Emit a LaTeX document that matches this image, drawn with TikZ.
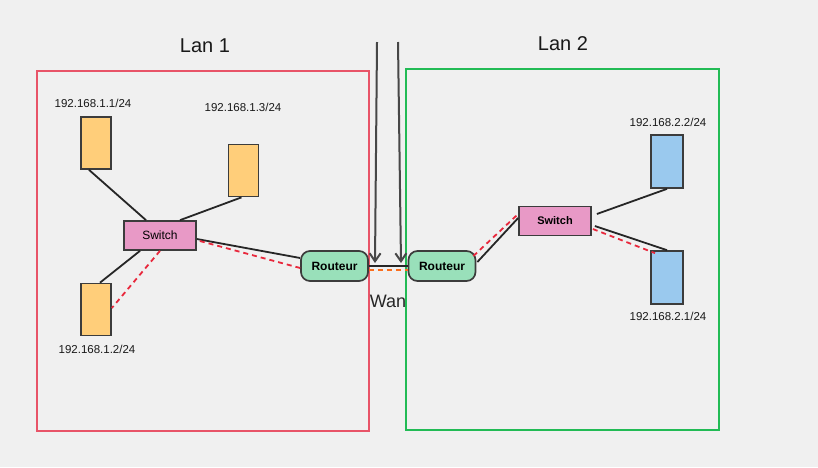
\documentclass[tikz,border=0pt]{standalone}
\usepackage{fontspec}
\setmainfont{Liberation Sans}
\usetikzlibrary{arrows.meta}
\definecolor{bg}{RGB}{240,240,240}
\definecolor{lanred}{RGB}{232,84,104}
\definecolor{langreen}{RGB}{34,187,85}
\definecolor{pcorange}{RGB}{255,206,122}
\definecolor{pcblue}{RGB}{154,201,238}
\definecolor{swpink}{RGB}{232,153,198}
\definecolor{rtgreen}{RGB}{153,224,186}
\definecolor{edgegray}{RGB}{60,60,60}
\definecolor{dashred}{RGB}{232,40,60}
\definecolor{dashorange}{RGB}{250,110,30}
\tikzset{
  pcbox/.style={draw=edgegray, line width=1.7pt, minimum width=30pt, minimum height=52pt, inner sep=0pt},
  swbox/.style={draw=edgegray, line width=1.7pt, fill=swpink, minimum width=72pt, minimum height=29pt, inner sep=0pt},
  rtbox/.style={draw=edgegray, line width=1.7pt, fill=rtgreen, rounded corners=9pt, minimum width=67pt, minimum height=30pt, inner sep=0pt, font=\fontsize{12}{14}\selectfont\bfseries},
  iplabel/.style={font=\fontsize{11.5}{13}\selectfont, text=black!90, inner sep=0pt},
  link/.style={draw=black!85, line width=1.8pt},
  rlink/.style={draw=dashred, line width=1.8pt, dash pattern=on 5pt off 4pt},
  olink/.style={draw=dashorange, line width=1.8pt, dash pattern=on 5pt off 4pt},
  wanarrow/.style={draw=black!72, line width=2pt, -{Straight Barb[length=8pt,width=11pt,line width=2pt]}},
  lanbox/.style={line width=1.4pt},
  title/.style={font=\fontsize{20}{24}\selectfont, text=black!90, inner sep=0pt}
}
\begin{document}
\begin{tikzpicture}[x=1pt,y=-1pt]
\fill[bg] (0,0) rectangle (818,467);
\useasboundingbox (0,0) rectangle (818,467);

% LAN boxes
\draw[lanbox, draw=lanred] (37,71) rectangle (369,431);
\draw[lanbox, draw=langreen] (406,69) rectangle (719,430);
\node[title] (lan1) at (205,46) {Lan 1};
\node[title] (lan2) at (563,44) {Lan 2};

% LAN 1 nodes
\node[pcbox, fill=pcorange] (pc1) at (96,143) {};
\node[pcbox, fill=pcorange] (pc3) at (243.5,170.5) {};
\node[pcbox, fill=pcorange] (pc2) at (96,309.5) {};
\node[iplabel] (l1) at (93,103) {192.168.1.1/24};
\node[iplabel] (l3) at (243,107) {192.168.1.3/24};
\node[iplabel] (l2) at (97,349) {192.168.1.2/24};
\node[swbox, font=\fontsize{12}{14}\selectfont] (sw1) at (160,235.5) {Switch};
\node[rtbox] (r1) at (334.5,266) {Routeur};

% LAN 2 nodes
\node[rtbox] (r2) at (442,266) {Routeur};
\node[swbox, font=\fontsize{11}{13}\selectfont\bfseries] (sw2) at (555,221) {Switch};
\node[pcbox, fill=pcblue, minimum width=32pt, minimum height=53pt] (pc4) at (667,161.5) {};
\node[pcbox, fill=pcblue, minimum width=32pt, minimum height=53pt] (pc5) at (667,277.5) {};
\node[iplabel] (l4) at (668,122) {192.168.2.2/24};
\node[iplabel] (l5) at (668,316) {192.168.2.1/24};

% Wan label
\node[font=\fontsize{18}{22}\selectfont, text=black!85, inner sep=0pt] (wan) at (388,301) {Wan};

% LAN 1 links
\draw[link] ([xshift=-7pt]pc1.south) -- ([xshift=-14pt]sw1.north);
\draw[link] ([xshift=-2pt]pc3.south) -- ([xshift=20pt]sw1.north);
\draw[link] ([xshift=-20pt]sw1.south) -- ([xshift=4pt]pc2.north);
\draw[rlink] (sw1.south) -- ([yshift=1.5pt]pc2.east);
\draw[link] ([yshift=-3.5pt]sw1.east) -- ([yshift=8pt]r1.west);
\draw[rlink] ([xshift=3pt,yshift=-5.5pt]sw1.east) -- ([yshift=-2pt]r1.west);

% WAN links
\draw[link] (r1.east) -- (r2.west);
\draw[olink] ([yshift=-4pt]r1.east) -- ([yshift=-4pt]r2.west);

% WAN arrows
\coordinate (a1s) at (377,42);
\coordinate (a1e) at (375,263);
\coordinate (a2s) at (398,42);
\coordinate (a2e) at (401,263);
\draw[wanarrow] (a1s) -- (a1e);
\draw[wanarrow] (a2s) -- (a2e);

% LAN 2 links
\draw[link] ([xshift=1pt,yshift=4pt]r2.east) -- ([yshift=3pt]sw2.west);
\draw[rlink] ([xshift=-3pt,yshift=10pt]r2.east) -- ([yshift=7pt]sw2.west);
\draw[link] ([xshift=5pt,yshift=7pt]sw2.east) -- (pc4.south);
\draw[link] ([xshift=3pt,yshift=-5pt]sw2.east) -- (pc5.north);
\draw[rlink] ([xshift=1pt,yshift=-8pt]sw2.east) -- ([xshift=-12pt,yshift=-3pt]pc5.north);
\end{tikzpicture}
\end{document}
